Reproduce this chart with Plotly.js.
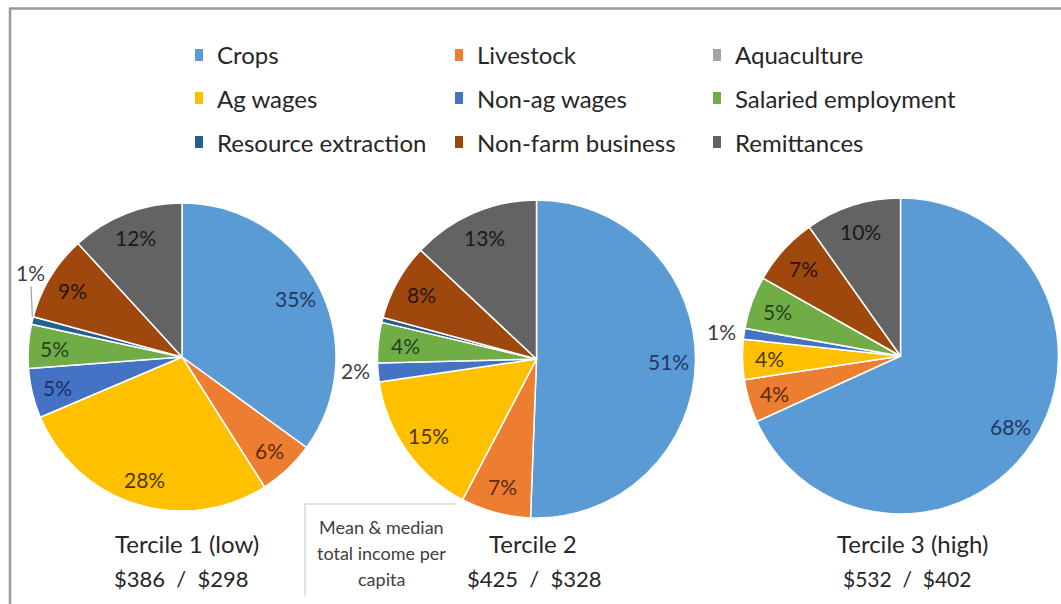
<!DOCTYPE html>
<html><head><meta charset="utf-8">
<script src="https://cdn.plot.ly/plotly-3.0.1.min.js"></script>
<style>html,body{margin:0;padding:0;background:#fff}#chart{width:1061px;height:604px}</style>
</head><body><div id="chart"></div>
<script>
// ---- data ----
const categories = ['Crops','Livestock','Aquaculture','Ag wages','Non-ag wages','Salaried employment','Resource extraction','Non-farm business','Remittances'];
const tercile1 = [35.0, 6.0, 0, 27.6, 5.2, 4.6, 0.8, 9.0, 11.8];
const tercile2 = [50.6, 7.1, 0, 15.0, 1.9, 4.1, 0.5, 7.8, 13.0];
const tercile3 = [68.2, 4.4, 0, 4.1, 1.1, 5.4, 0, 7.0, 9.8];
const tercileNames = ['Tercile 1 (low)', 'Tercile 2', 'Tercile 3 (high)'];
const meanIncome = [386, 425, 532];
const medianIncome = [298, 328, 402];
const noteLines = ['Mean & median', 'total income per', 'capita'];

// ---- styles / layout ----
const colors = ['#5B9BD5','#ED7D31','#A5A5A5','#FFC000','#4472C4','#70AD47','#255E91','#9E480E','#636363'];
const textDark = ['#1F3864','#5B2A0A','#404040','#4D3A00','#1B2F5E','#25421A','#404040','#2B1306','#1A1A1A'];
const FONT = 'Lato, "Open Sans", sans-serif';
const W = 1061, H = 604;
const px = x => x / W;
const py = y => 1 - y / H;

// pie geometry (center x, center y, radius) in pixels
const pieGeom = [[182, 357, 154], [536.5, 359, 159], [900.5, 356, 158]];
const titleX = [187, 533, 912];
const incomeX = [181, 534, 907];
const series = [tercile1, tercile2, tercile3];

const shapes = [];
const annotations = [];

const traces = series.map((vals, k) => {
  const [cx, cy, r] = pieGeom[k];
  return {
    type: 'pie',
    labels: categories,
    values: vals,
    sort: false,
    direction: 'clockwise',
    rotation: 0,
    marker: {colors: colors, line: {color: '#ffffff', width: 1.5}},
    textinfo: 'none',
    hoverinfo: 'label+percent',
    showlegend: false,
    automargin: false,
    domain: {x: [px(cx - r), px(cx + r)], y: [py(cy + r), py(cy - r)]}
  };
});

// percentage labels placed along each slice's mid-angle (computed from the data)
series.forEach((vals, k) => {
  const [cx, cy, r] = pieGeom[k];
  const total = vals.reduce((a, b) => a + b, 0);
  let cum = 0;
  vals.forEach((v, i) => {
    const start = cum;
    cum += v;
    if (v <= 0) return;
    const pct = v / total * 100;
    const mid = (start + v / 2) / total * 2 * Math.PI;
    const s = Math.sin(mid), c = Math.cos(mid);
    const label = Math.round(pct) + '%';
    if (pct >= 2.5) {
      const R = 0.83 * r;
      annotations.push({xref: 'paper', yref: 'paper', x: px(cx + R * s), y: py(cy - R * c),
        xanchor: 'center', yanchor: 'middle', text: label, showarrow: false,
        font: {family: FONT, size: 21, color: textDark[i]}});
    } else if (pct >= 1) {
      annotations.push({xref: 'paper', yref: 'paper', x: px(cx + r * s - 6), y: py(cy - r * c - 2),
        xanchor: 'right', yanchor: 'middle', text: label, showarrow: false,
        font: {family: FONT, size: 21, color: '#404040'}});
    } else if (pct >= 0.7) {
      annotations.push({xref: 'paper', yref: 'paper', x: px(cx + r * s), y: py(cy - r * c - 4),
        text: label, showarrow: true, arrowhead: 0, arrowwidth: 1.3, arrowcolor: '#a6a6a6',
        ax: -2, ay: -44, standoff: 0,
        font: {family: FONT, size: 21, color: '#404040'}});
    }
  });
});

// outer frame
shapes.push({type: 'line', xref: 'paper', yref: 'paper', x0: px(9), x1: px(1061), y0: py(8.5), y1: py(8.5), line: {color: '#9a9a9a', width: 2.5}});
shapes.push({type: 'line', xref: 'paper', yref: 'paper', x0: px(10), x1: px(10), y0: py(8), y1: py(604), line: {color: '#9a9a9a', width: 2.5}});

// legend (manual grid, 3 columns)
const legColX = [195, 455, 713];
const legRowY = [55, 98, 142];
categories.forEach((c, i) => {
  const col = i % 3, row = Math.floor(i / 3);
  const x = legColX[col], y = legRowY[row];
  shapes.push({type: 'rect', xref: 'paper', yref: 'paper', x0: px(x), x1: px(x + 8), y0: py(y + 6), y1: py(y - 6),
    fillcolor: colors[i], line: {width: 0}});
  annotations.push({xref: 'paper', yref: 'paper', x: px(x + 20), y: py(y), xanchor: 'left', yanchor: 'middle',
    text: c, showarrow: false, font: {family: FONT, size: 24, color: '#262626'}});
});

// tercile labels and incomes
pieGeom.forEach((g, k) => {
  annotations.push({xref: 'paper', yref: 'paper', x: px(titleX[k]), y: py(543), xanchor: 'center', yanchor: 'middle',
    text: tercileNames[k], showarrow: false, font: {family: FONT, size: 24, color: '#262626'}});
  annotations.push({xref: 'paper', yref: 'paper', x: px(incomeX[k]), y: py(578), xanchor: 'center', yanchor: 'middle',
    text: '$' + meanIncome[k] + '  /  $' + medianIncome[k], showarrow: false,
    font: {family: FONT, size: k === 2 ? 21 : 22, color: '#262626'}});
});

// note box
shapes.push({type: 'line', xref: 'paper', yref: 'paper', x0: px(305), x1: px(456), y0: py(504), y1: py(504), line: {color: '#d9d9d9', width: 1.5}});
shapes.push({type: 'line', xref: 'paper', yref: 'paper', x0: px(305), x1: px(305), y0: py(504), y1: py(596), line: {color: '#d9d9d9', width: 1.5}});
noteLines.forEach((t, i) => {
  annotations.push({xref: 'paper', yref: 'paper', x: px(381), y: py(527 + i * 26), xanchor: 'center', yanchor: 'middle',
    text: t, showarrow: false, font: {family: FONT, size: 18, color: '#404040'}});
});

const layout = {
  width: W, height: H,
  margin: {l: 0, r: 0, t: 0, b: 0},
  paper_bgcolor: '#ffffff',
  plot_bgcolor: '#ffffff',
  showlegend: false,
  font: {family: FONT},
  shapes: shapes,
  annotations: annotations
};

Plotly.newPlot('chart', traces, layout, {displayModeBar: false, staticPlot: true});
</script>
</body></html>
